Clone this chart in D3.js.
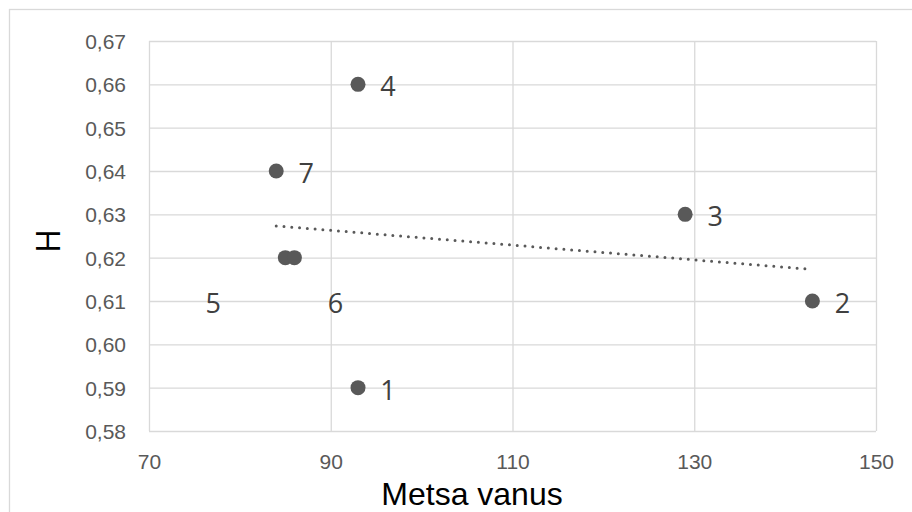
<!DOCTYPE html>
<html>
  <head>
    <meta charset="UTF-8" />
    <title>H vs Metsa vanus</title>
    <script src="https://d3js.org/d3.v7.min.js"></script>
    <style>
      * {
        margin: 0;
        padding: 0;
        box-sizing: border-box;
      }
      body {
        background-color: #ffffff;
        overflow: hidden;
      }
      svg {
        display: block;
        font-family: "Open Sans", "Noto Sans", sans-serif;
      }
      .grid line {
        stroke: #d9d9d9;
        stroke-width: 1.3;
      }
      .tick text {
        fill: #595959;
        font-size: 21px;
      }
      .point {
        fill: #595959;
      }
      .point-label {
        fill: #404040;
        font-size: 27px;
      }
      .trend {
        fill: none;
        stroke: #595959;
        stroke-width: 3;
        stroke-linecap: round;
        stroke-dasharray: 0 7.8;
      }
      .axis-title {
        fill: #000000;
        font-size: 32px;
      }
      .x-title {
        font-family: "Liberation Sans", Arial, sans-serif;
      }
    </style>
  </head>
  <body>
    <svg id="chart" width="912" height="512"></svg>
  </body>
  <script>
    // data
    const ages = [93, 143, 129, 93, 85, 86, 84];
    const hValues = [0.59, 0.61, 0.63, 0.66, 0.62, 0.62, 0.64];
    const pointNames = ["1", "2", "3", "4", "5", "6", "7"];
    const xTicks = [70, 90, 110, 130, 150];
    const yTicks = [0.58, 0.59, 0.6, 0.61, 0.62, 0.63, 0.64, 0.65, 0.66, 0.67];
    const xTitle = "Metsa vanus";
    const yTitle = "H";

    // label offsets in px (labels 5 and 6 were dragged away in the original)
    const labelOffsets = [
      [30, 12], [30, 12], [30, 12], [30, 12],
      [-72, 55], [41, 55], [30, 12]
    ];

    const svg = d3.select("#chart");
    const plotLeft = 149, plotRight = 876, plotTop = 41, plotBottom = 431;

    // chart area border (only left/top edges fall inside the image)
    svg.append("rect")
      .attr("x", 9.5)
      .attr("y", 9.5)
      .attr("width", 920)
      .attr("height", 520)
      .attr("fill", "#ffffff")
      .attr("stroke", "#d9d9d9")
      .attr("stroke-width", 1.3);

    const x = d3.scaleLinear().domain([70, 150]).range([plotLeft, plotRight]);
    const y = d3.scaleLinear().domain([0.58, 0.67]).range([plotBottom, plotTop]);

    const comma = d3.formatLocale({ decimal: ",", thousands: " ", grouping: [3], currency: ["", ""] });

    // horizontal gridlines + y tick labels
    const yAxis = svg.append("g")
      .attr("class", "grid")
      .attr("transform", `translate(${plotLeft},0)`)
      .call(d3.axisLeft(y)
        .tickValues(yTicks)
        .tickSize(-(plotRight - plotLeft))
        .tickPadding(23)
        .tickFormat(comma.format(".2f")));
    yAxis.select(".domain").remove();
    yAxis.selectAll(".tick text").attr("dy", "0.36em");

    // vertical gridlines + x tick labels
    const xAxis = svg.append("g")
      .attr("class", "grid")
      .attr("transform", `translate(0,${plotBottom})`)
      .call(d3.axisBottom(x)
        .tickValues(xTicks)
        .tickSize(-(plotBottom - plotTop))
        .tickPadding(23)
        .tickFormat(d3.format("d")));
    xAxis.select(".domain").remove();
    xAxis.selectAll(".tick text").attr("dy", "0.71em");

    // linear trendline (least squares over the points)
    const mx = d3.mean(ages), my = d3.mean(hValues);
    const slope = d3.sum(ages, (a, i) => (a - mx) * (hValues[i] - my)) /
                  d3.sum(ages, (a) => (a - mx) * (a - mx));
    const fit = (a) => my + slope * (a - mx);
    const [xMin, xMax] = d3.extent(ages);
    svg.append("path")
      .attr("class", "trend")
      .attr("d", d3.line().x((d) => x(d)).y((d) => y(fit(d)))([xMin, xMax]));

    const points = ages.map((a, i) => ({ age: a, h: hValues[i], name: pointNames[i], off: labelOffsets[i] }));

    svg.selectAll(".point")
      .data(points)
      .enter()
      .append("circle")
      .attr("class", "point")
      .attr("cx", (d) => x(d.age))
      .attr("cy", (d) => y(d.h))
      .attr("r", 7.5);

    svg.selectAll(".point-label")
      .data(points)
      .enter()
      .append("text")
      .attr("class", "point-label")
      .attr("text-anchor", "middle")
      .attr("x", (d) => x(d.age) + d.off[0])
      .attr("y", (d) => y(d.h) + d.off[1])
      .text((d) => d.name);

    // axis titles
    svg.append("text")
      .attr("class", "axis-title x-title")
      .attr("text-anchor", "middle")
      .attr("x", 472)
      .attr("y", 505)
      .text(xTitle);

    svg.append("text")
      .attr("class", "axis-title")
      .attr("text-anchor", "middle")
      .attr("transform", "translate(60,241) rotate(-90)")
      .text(yTitle);
  </script>
</html>
